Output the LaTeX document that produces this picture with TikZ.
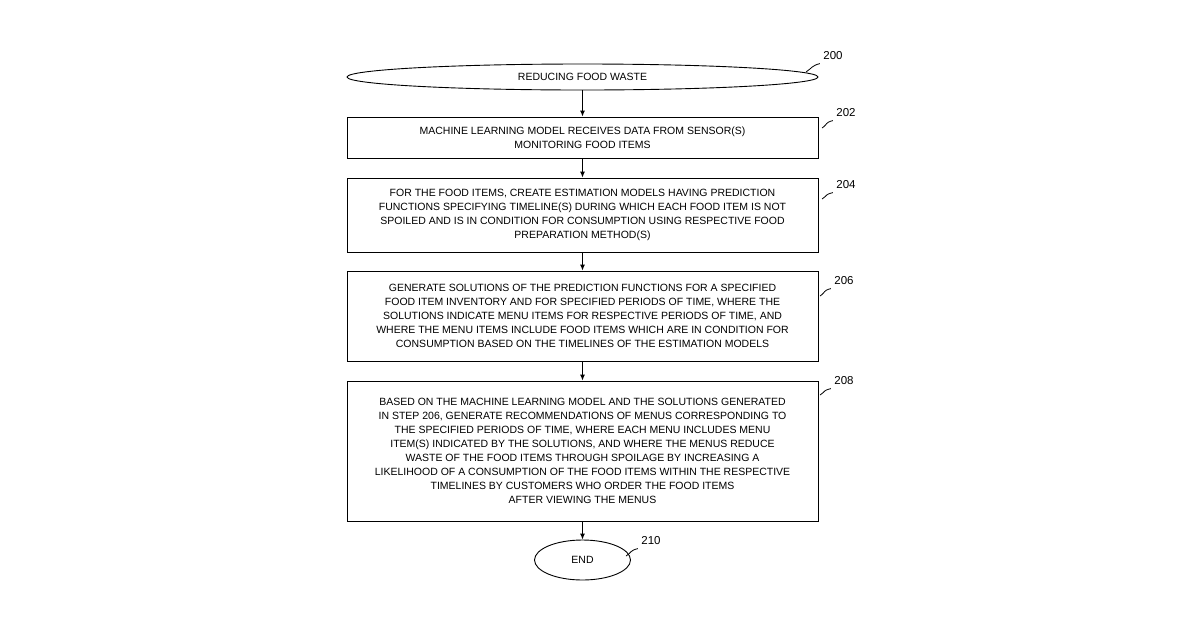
\documentclass[tikz,border=0pt]{standalone}
\usepackage{fontspec}
\setmainfont{Liberation Sans}
\usetikzlibrary{shapes.geometric,arrows.meta}
\begin{document}
\begin{tikzpicture}[x=1pt,y=-1pt,
  box/.style={draw,line width=0.9pt,minimum width=471pt,align=center,font=\fontsize{10.5}{14}\selectfont,inner sep=0pt},
  oval/.style={draw,ellipse,line width=0.9pt,font=\fontsize{10.5}{13}\selectfont,inner sep=0pt},
  arr/.style={-{Latex[length=6pt,width=5pt]},line width=0.9pt},
  lbl/.style={font=\fontsize{11.5}{13}\selectfont},
  lead/.style={line width=0.8pt}]
\useasboundingbox (0,0) rectangle (1200,630);
\node[oval,minimum width=471pt,minimum height=26pt] (s) at (582.5,77) {REDUCING FOOD WASTE};
\node[box,minimum height=41pt] (b2) at (582.5,137.5) {MACHINE LEARNING MODEL RECEIVES DATA FROM SENSOR(S)\\MONITORING FOOD ITEMS};
\node[box,minimum height=74pt] (b4) at (582.5,215) {FOR THE FOOD ITEMS, CREATE ESTIMATION MODELS HAVING PREDICTION\\FUNCTIONS SPECIFYING TIMELINE(S) DURING WHICH EACH FOOD ITEM IS NOT\\SPOILED AND IS IN CONDITION FOR CONSUMPTION USING RESPECTIVE FOOD\\PREPARATION METHOD(S)};
\node[box,minimum height=90pt] (b6) at (582.5,316) {GENERATE SOLUTIONS OF THE PREDICTION FUNCTIONS FOR A SPECIFIED\\FOOD ITEM INVENTORY AND FOR SPECIFIED PERIODS OF TIME, WHERE THE\\SOLUTIONS INDICATE MENU ITEMS FOR RESPECTIVE PERIODS OF TIME, AND\\WHERE THE MENU ITEMS INCLUDE FOOD ITEMS WHICH ARE IN CONDITION FOR\\CONSUMPTION BASED ON THE TIMELINES OF THE ESTIMATION MODELS};
\node[box,minimum height=140pt] (b8) at (582.5,451) {BASED ON THE MACHINE LEARNING MODEL AND THE SOLUTIONS GENERATED\\IN STEP 206, GENERATE RECOMMENDATIONS OF MENUS CORRESPONDING TO\\THE SPECIFIED PERIODS OF TIME, WHERE EACH MENU INCLUDES MENU\\ITEM(S) INDICATED BY THE SOLUTIONS, AND WHERE THE MENUS REDUCE\\WASTE OF THE FOOD ITEMS THROUGH SPOILAGE BY INCREASING A\\LIKELIHOOD OF A CONSUMPTION OF THE FOOD ITEMS WITHIN THE RESPECTIVE\\TIMELINES BY CUSTOMERS WHO ORDER THE FOOD ITEMS\\AFTER VIEWING THE MENUS};
\node[oval,minimum width=96pt,minimum height=40pt] (e) at (582.5,560) {END};
\draw[arr] (s) -- (b2);
\draw[arr] (b2) -- (b4);
\draw[arr] (b4) -- (b6);
\draw[arr] (b6) -- (b8);
\draw[arr] (b8) -- (e);
\node[lbl] (l0) at (833,56) {200};
\node[lbl] (l2) at (846,113) {202};
\node[lbl] (l4) at (846,185) {204};
\node[lbl] (l6) at (844,281) {206};
\node[lbl] (l8) at (844,381) {208};
\node[lbl] (l10) at (651,541) {210};
\coordinate (c0) at (806,72);
\coordinate (c2) at (822,128);
\coordinate (c4) at (822,199);
\coordinate (c6) at (820,296);
\coordinate (c8) at (820,395);
\coordinate (c10) at (626,556);
\draw[lead] (l0.south west) .. controls +(-8,2) and +(6,-4) .. (c0);
\draw[lead] (l2.south west) .. controls +(-8,2) and +(6,-4) .. (c2);
\draw[lead] (l4.south west) .. controls +(-8,2) and +(6,-4) .. (c4);
\draw[lead] (l6.south west) .. controls +(-8,2) and +(6,-4) .. (c6);
\draw[lead] (l8.south west) .. controls +(-8,2) and +(6,-4) .. (c8);
\draw[lead] (l10.south west) .. controls +(-8,2) and +(6,-4) .. (c10);
\end{tikzpicture}
\end{document}
